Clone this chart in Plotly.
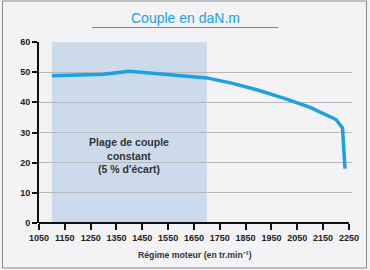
import plotly.graph_objects as go

# Data
rpm = [1100, 1300, 1400, 1500, 1600, 1700, 1800, 1900, 2000, 2100, 2200, 2225, 2235]
torque = [48.8, 49.3, 50.3, 49.5, 48.7, 48.1, 46.3, 44.0, 41.3, 38.3, 34.3, 31.5, 18.0]
x_ticks = [1050, 1150, 1250, 1350, 1450, 1550, 1650, 1750, 1850, 1950, 2050, 2150, 2250]
y_ticks = [0, 10, 20, 30, 40, 50, 60]
band = [1100, 1700]

W, H = 370, 270
L, R, T, B = 39, 18, 42, 47
pw, ph = W - L - R, H - T - B

def px(xp):
    return (xp - L) / pw

def py(yp):
    return (H - B - yp) / ph

bg = "#f3f2f5"
blue = "#1da1e0"
tickfont = dict(family="Liberation Sans Narrow, Arial Narrow, Liberation Sans, Arial", size=9, color="#222",
                weight="bold")

fig = go.Figure()
fig.add_trace(go.Scatter(x=rpm, y=torque, mode="lines",
                         line=dict(color=blue, width=3.5), hoverinfo="skip", showlegend=False))

shapes = [
    dict(type="rect", xref="x", yref="y", x0=band[0], x1=band[1], y0=0, y1=60,
         fillcolor="#cbdbeb", line=dict(width=0), layer="below"),
    dict(type="line", xref="x", yref="paper", x0=x_ticks[0], x1=x_ticks[-1], y0=0, y1=0,
         line=dict(color="#111", width=2)),
    dict(type="line", xref="paper", yref="paper", x0=px(92), x1=px(278), y0=py(27.5), y1=py(27.5),
         line=dict(color=blue, width=1)),
    dict(type="rect", xref="paper", yref="paper", x0=px(2.5), x1=px(366.5), y0=py(1), y1=py(268),
         line=dict(color="#8a8a8a", width=1), fillcolor="rgba(0,0,0,0)"),
]

annotations = [
    dict(text="Couple en daN.m", xref="paper", yref="paper", x=px(185), y=py(18),
         xanchor="center", yanchor="middle", showarrow=False,
         font=dict(family="Liberation Sans, Arial", size=14, color=blue)),
    dict(text="Plage de couple<br>constant<br>(5 % d'écart)", xref="x", yref="y",
         x=1400, y=22.3, xanchor="center", yanchor="middle", showarrow=False,
         font=dict(family="Liberation Sans, Arial", size=10.5, color="#333", weight="bold")),
    dict(text="Régime moteur (en tr.min⁻¹)", xref="paper", yref="paper", x=px(194.5), y=py(255),
         xanchor="center", yanchor="middle", showarrow=False,
         font=dict(family="Liberation Sans, Arial", size=8.7, color="#333", weight="bold")),
]

fig.update_layout(
    width=W, height=H,
    margin=dict(l=L, r=R, t=T, b=B),
    paper_bgcolor=bg, plot_bgcolor="rgba(0,0,0,0)",
    shapes=shapes, annotations=annotations,
    xaxis=dict(range=[1050, 2262], tickvals=x_ticks, ticktext=[str(v) for v in x_ticks],
               showgrid=False, zeroline=False, showline=False,
               ticks="outside", ticklen=6, tickwidth=2, tickcolor="#111",
               tickfont=tickfont, fixedrange=True),
    yaxis=dict(range=[0, 60], tickvals=y_ticks, ticktext=[str(v) for v in y_ticks],
               showgrid=True, gridcolor="#b8b8b8", gridwidth=1, zeroline=False,
               showline=True, linecolor="#111", linewidth=2,
               ticks="outside", ticklen=5, tickwidth=2, tickcolor="#111",
               tickfont=tickfont, fixedrange=True),
)

fig.write_html("out.html")
